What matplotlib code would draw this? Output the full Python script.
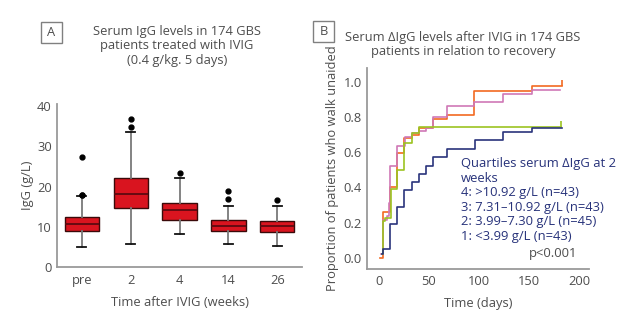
import matplotlib.pyplot as plt
from matplotlib.patches import Rectangle

plt.rcParams['font.family'] = ['Open Sans', 'DejaVu Sans']

TXT = '#4d4d4d'
SPINE = '#9a9a9a'
FS = 9.3

# --- panel A: serum IgG (g/L) per time point ---
weeks = ['pre', '2', '4', '14', '26']
q1 = [8.9, 14.75, 11.7, 8.8, 8.6]
med = [10.6, 18.25, 14.2, 10.25, 10.1]
q3 = [12.4, 22.25, 16.0, 11.7, 11.4]
whislo = [4.8, 5.7, 8.1, 5.6, 5.1]
whishi = [17.6, 33.6, 22.1, 15.2, 15.2]
outliers = [[17.9, 18.0, 27.3], [34.8, 36.75], [23.3], [16.9, 18.8], [16.7]]

# --- panel B: proportion walking unaided, by delta-IgG quartile ---
days_q4 = [1, 4, 11, 18, 25, 33, 40, 54, 68, 95, 153, 183]
prop_q4 = [0.0, 0.26, 0.40, 0.598, 0.68, 0.70, 0.737, 0.788, 0.81, 0.95, 0.98, 0.98]
days_q3 = [2, 4, 8, 10, 11, 18, 26, 33, 40, 47, 54, 68, 95, 124, 153, 181]
prop_q3 = [0.02, 0.214, 0.24, 0.31, 0.52, 0.637, 0.69, 0.71, 0.72, 0.737, 0.80,
           0.866, 0.885, 0.93, 0.955, 0.955]
days_q2 = [3, 4, 6, 12, 18, 25, 33, 40, 182]
prop_q2 = [0.02, 0.21, 0.227, 0.39, 0.50, 0.655, 0.708, 0.746, 0.746]
days_q1 = [3, 4, 11, 18, 25, 33, 40, 47, 54, 68, 96, 124, 153, 183]
prop_q1 = [0.02, 0.047, 0.19, 0.29, 0.385, 0.43, 0.476, 0.524, 0.571, 0.62,
           0.67, 0.714, 0.737, 0.737]

legend_lines = ['Quartiles serum \u0394IgG at 2', 'weeks',
                '4: >10.92 g/L (n=43)', '3: 7.31\u201310.92 g/L (n=43)',
                '2: 3.99\u20137.30 g/L (n=45)', '1: <3.99 g/L (n=43)']

fig = plt.figure(figsize=(6.44, 3.28), dpi=100)


def style_axes(ax):
    for s in ['top', 'right']:
        ax.spines[s].set_visible(False)
    for s in ['left', 'bottom']:
        ax.spines[s].set_color(SPINE)
        ax.spines[s].set_linewidth(1.3)
    ax.tick_params(length=0, labelsize=FS, colors=TXT)


def panel_letter(x, y, letter):
    fig.patches.append(Rectangle((x, y), 21 / 644, 21 / 328, transform=fig.transFigure,
                                 fill=False, edgecolor='#808080', linewidth=1.0))
    fig.text(x + 10.5 / 644, y + 10.5 / 328, letter, ha='center', va='center',
             fontsize=FS, color=TXT)


# panel A
axA = fig.add_axes([0.089, 0.187, 0.3795, 0.496])
stats = []
for i, lab in enumerate(weeks):
    stats.append(dict(label=lab, q1=q1[i], med=med[i], q3=q3[i],
                      whislo=whislo[i], whishi=whishi[i], fliers=outliers[i]))
axA.bxp(stats, positions=range(len(weeks)), widths=0.7, patch_artist=True,
        boxprops=dict(facecolor='#d9141f', edgecolor='#3a0a0a', linewidth=1.0),
        medianprops=dict(color='#5e0a10', linewidth=1.3),
        whiskerprops=dict(color='#7a7a7a', linewidth=1.3),
        capprops=dict(color='#111111', linewidth=1.3),
        capwidths=0.19,
        flierprops=dict(marker='o', markersize=3.5, markerfacecolor='black',
                        markeredgecolor='black'))
axA.set_xlim(-0.5, 4.5)
axA.set_ylim(0, 40.6)
axA.set_yticks([0, 10, 20, 30, 40])
style_axes(axA)
axA.tick_params(axis='y', pad=4)
axA.tick_params(axis='x', pad=5)
axA.set_ylabel('IgG (g/L)', fontsize=FS, color=TXT, labelpad=2)
axA.set_xlabel('Time after IVIG (weeks)', fontsize=FS, color=TXT, labelpad=7)
fig.text(177 / 644, 1 - 46 / 328,
         'Serum IgG levels in 174 GBS\npatients treated with IVIG\n(0.4 g/kg. 5 days)',
         ha='center', va='center', fontsize=FS, color=TXT, linespacing=1.15)
panel_letter(41 / 644, 1 - 43 / 328, 'A')

# panel B
axB = fig.add_axes([0.5703, 0.1814, 0.3443, 0.611])
curves = [(days_q4, prop_q4, '#f26a21', True),
          (days_q3, prop_q3, '#cf78b6', False),
          (days_q2, prop_q2, '#9cc421', True),
          (days_q1, prop_q1, '#2a347c', False)]
for t, p, c, tick in curves:
    axB.step(t, p, where='post', color=c, linewidth=1.2)
    if tick:
        axB.vlines(t[-1], p[-1], p[-1] + 0.03, color=c, linewidth=1.2)
axB.set_xlim(-11.7, 210)
axB.set_ylim(-0.062, 1.08)
axB.set_xticks([0, 50, 100, 150, 200])
axB.set_yticks([0.0, 0.2, 0.4, 0.6, 0.8, 1.0])
axB.set_yticklabels(['0.0', '0.2', '0.4', '0.6', '0.8', '1.0'])
style_axes(axB)
axB.tick_params(axis='y', pad=4)
axB.tick_params(axis='x', pad=5)
axB.set_xlabel('Time (days)', fontsize=FS, color=TXT, labelpad=6)
axB.set_ylabel('Proportion of patients who walk unaided', fontsize=FS, color=TXT,
               labelpad=3)
for k, line in enumerate(legend_lines):
    axB.text(0.422, 0.523 - k * 0.0725, line, transform=axB.transAxes,
             ha='left', va='center', fontsize=9.4, color='#27327a')
axB.text(0.73, 0.073, 'p<0.001', transform=axB.transAxes, ha='left', va='center',
         fontsize=9.4, color=TXT)
fig.text(463 / 644, 1 - 44.5 / 328,
         'Serum \u0394IgG levels after IVIG in 174 GBS\npatients in relation to recovery',
         ha='center', va='center', fontsize=FS, color=TXT, linespacing=1.15)
panel_letter(313 / 644, 1 - 42 / 328, 'B')

fig.savefig('out.png', dpi=100, facecolor='white')
